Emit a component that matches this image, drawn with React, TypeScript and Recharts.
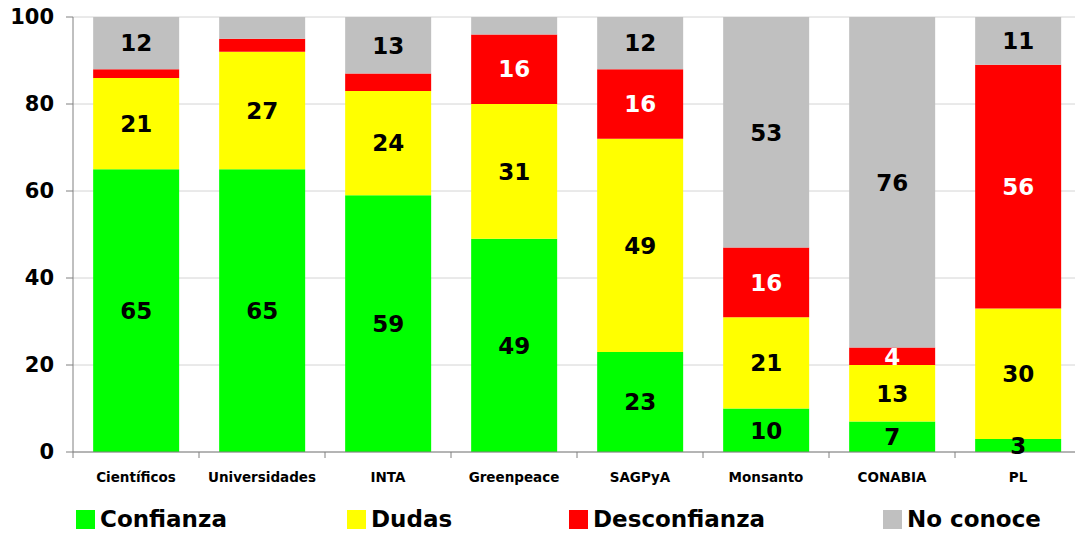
import { BarChart, Bar, XAxis, YAxis, CartesianGrid, LabelList } from "recharts";

const categories = ["Científicos", "Universidades", "INTA", "Greenpeace", "SAGPyA", "Monsanto", "CONABIA", "PL"];
const confianza = [65, 65, 59, 49, 23, 10, 7, 3];
const dudas = [21, 27, 24, 31, 49, 21, 13, 30];
const desconfianza = [2, 3, 4, 16, 16, 16, 4, 56];
const noConoce = [12, 5, 13, 4, 12, 53, 76, 11];
const yTicks = [0, 20, 40, 60, 80, 100];

// labels that the original leaves out (series key -> category indexes)
const hiddenLabels: Record<string, number[]> = {
  desconfianza: [0, 1, 2],
  noConoce: [1, 3],
};

const series = [
  { key: "confianza", name: "Confianza", color: "#00ff00", text: "#000000" },
  { key: "dudas", name: "Dudas", color: "#ffff00", text: "#000000" },
  { key: "desconfianza", name: "Desconfianza", color: "#ff0000", text: "#ffffff" },
  { key: "noConoce", name: "No conoce", color: "#c0c0c0", text: "#000000" },
];

const legendLeft = [76, 347, 569, 883];

const data = categories.map((name, i) => ({
  name,
  confianza: confianza[i],
  dudas: dudas[i],
  desconfianza: desconfianza[i],
  noConoce: noConoce[i],
}));

const FONT = "'DejaVu Sans', Verdana, sans-serif";

function XTick(props: any) {
  const { x, y, payload, width, index } = props;
  const band = width / categories.length;
  const axisY = y - 8;
  return (
    <g>
      <line x1={x - band / 2} x2={x - band / 2} y1={axisY} y2={axisY + 6} stroke="#808080" />
      {index === categories.length - 1 && (
        <line x1={x + band / 2} x2={x + band / 2} y1={axisY} y2={axisY + 6} stroke="#808080" />
      )}
      <text x={x} y={y + 22} textAnchor="middle" fontFamily={FONT} fontWeight="bold" fontSize={13.5} fill="#000">
        {payload.value}
      </text>
    </g>
  );
}

function makeLabel(key: string, color: string) {
  return (props: any) => {
    const { x, y, width, height, value, index } = props;
    if ((hiddenLabels[key] || []).includes(index)) return null;
    return (
      <text
        x={x + width / 2}
        y={y + height / 2}
        dy="0.36em"
        textAnchor="middle"
        fontFamily={FONT}
        fontWeight="bold"
        fontSize={23}
        fill={color}
      >
        {value}
      </text>
    );
  };
}

export default function App() {
  return (
    <div style={{ position: "relative", width: 1075, height: 533, overflow: "hidden", background: "#fff" }}>
      <style>{`body{margin:0;overflow:hidden}`}</style>
      <BarChart
        width={1090}
        height={533}
        data={data}
        margin={{ top: 17, right: 9, bottom: 0, left: 0 }}
        barCategoryGap="16%"
      >
        <CartesianGrid vertical={false} stroke="#d4d4d4" />
        <XAxis
          dataKey="name"
          height={81}
          axisLine={{ stroke: "#808080" }}
          tickLine={false}
          tick={<XTick />}
          interval={0}
        />
        <YAxis
          width={73}
          domain={[0, 100]}
          ticks={yTicks}
          axisLine={{ stroke: "#808080" }}
          tickLine={{ stroke: "#808080" }}
          tickSize={7}
          tickMargin={12}
          tick={{ fontFamily: FONT, fontWeight: "bold", fontSize: 21, fill: "#000" }}
        />
        {series.map((s) => (
          <Bar key={s.key} dataKey={s.key} stackId="a" fill={s.color} isAnimationActive={false}>
            <LabelList dataKey={s.key} content={makeLabel(s.key, s.text)} />
          </Bar>
        ))}
      </BarChart>
      {series.map((s, i) => (
        <div
          key={s.key}
          style={{
            position: "absolute",
            left: legendLeft[i],
            top: 506,
            display: "flex",
            alignItems: "center",
            fontFamily: FONT,
            fontWeight: "bold",
            fontSize: 23,
            color: "#000",
            whiteSpace: "nowrap",
          }}
        >
          <span style={{ display: "inline-block", width: 19, height: 19, background: s.color, marginRight: 5 }} />
          {s.name}
        </div>
      ))}
    </div>
  );
}
